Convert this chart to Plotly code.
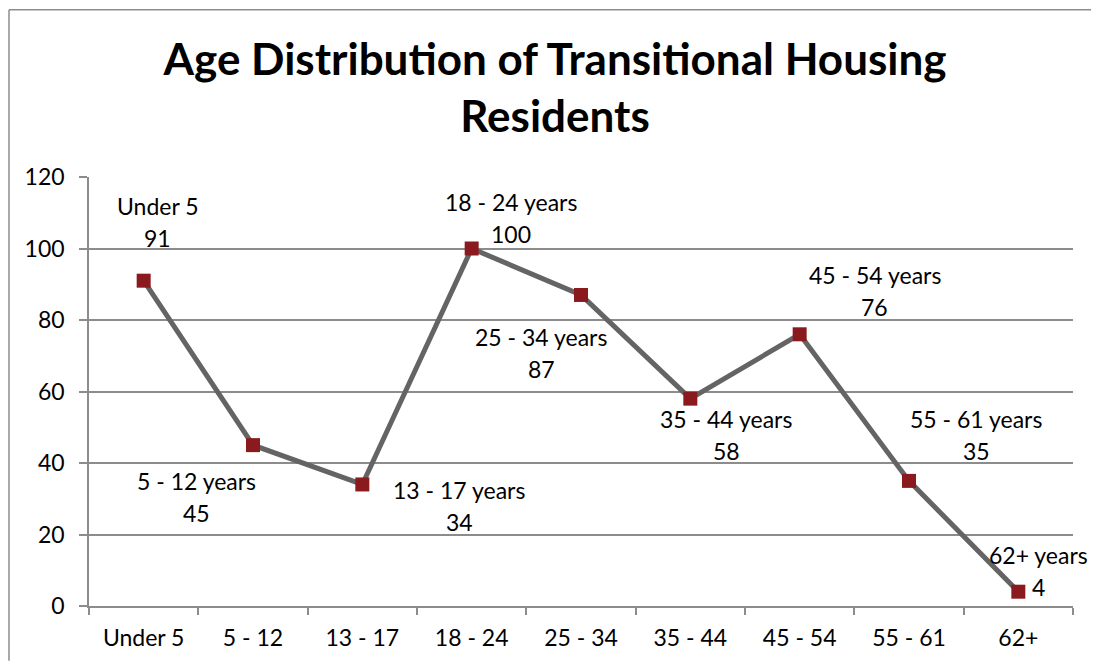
import plotly.graph_objects as go

categories = ["Under 5", "5 - 12", "13 - 17", "18 - 24", "25 - 34", "35 - 44", "45 - 54", "55 - 61", "62+"]
label_names = ["Under 5", "5 - 12 years", "13 - 17 years", "18 - 24 years", "25 - 34 years",
               "35 - 44 years", "45 - 54 years", "55 - 61 years", "62+ years"]
values = [91, 45, 34, 100, 87, 58, 76, 35, 4]
# label offsets (pixels) relative to each point
label_dx = [14, -57, 97, 39, -40, 36, 75, 67, 20]
label_dy = [59, -52, -22, 31, -58, -36, 43, 46, 21]

FONT = "Lato, Carlito, Calibri, sans-serif"
GRID = "#8c8c8c"

# the page body adds an 8px margin on every side, so the figure is sized to fit
# inside the window without scrollbars
W, H = 1083, 655
L, R, T, B = 81, 18, 169, 55

fig = go.Figure()
fig.add_trace(go.Scatter(
    x=categories, y=values, mode="lines+markers",
    line=dict(color="#646464", width=5),
    marker=dict(symbol="square", size=14, color="#8b1a1f", line=dict(width=0)),
    showlegend=False, hoverinfo="x+y",
))

for c, n, v, dx, dy in zip(categories, label_names, values, label_dx, label_dy):
    fig.add_annotation(x=c, y=v, text=n, showarrow=False, xshift=dx, yshift=dy + 16,
                       font=dict(family=FONT, size=23, color="black"))
    fig.add_annotation(x=c, y=v, text=str(v), showarrow=False, xshift=dx, yshift=dy - 16,
                       font=dict(family=FONT, size=23, color="black"))

pw, ph = W - L - R, H - T - B
bx = -(L - 1) / pw
by = (ph + T - 1) / ph
bx1 = (W - L) / pw
by0 = -B / ph
# outer chart border (top and left edges visible in the frame)
fig.add_shape(type="line", xref="paper", yref="paper", x0=bx, x1=bx1, y0=by, y1=by,
              line=dict(color=GRID, width=1.5), layer="below")
fig.add_shape(type="line", xref="paper", yref="paper", x0=bx, x1=bx, y0=by0, y1=by,
              line=dict(color=GRID, width=1.5), layer="below")

fig.update_layout(
    width=W, height=H,
    paper_bgcolor="white", plot_bgcolor="white",
    margin=dict(l=L, r=R, t=T, b=B),
    font=dict(family=FONT, size=23, color="black"),
    title=dict(text="<b>Age Distribution of Transitional Housing<br>Residents</b>",
               x=547 / W, xanchor="center", xref="container",
               y=1 - 67 / H, yanchor="middle", yref="container",
               font=dict(family=FONT, size=44, color="black")),
    xaxis=dict(
        type="category", range=[-0.5, 8.5],
        showline=True, linecolor=GRID, linewidth=1.5,
        ticks="outside", tickson="boundaries", ticklen=7, tickcolor=GRID, tickwidth=1.5,
        showgrid=False, tickfont=dict(family=FONT, size=23), ticklabelstandoff=11,
        fixedrange=True,
    ),
    yaxis=dict(
        range=[0, 120], tickvals=[0, 20, 40, 60, 80, 100, 120],
        showline=True, linecolor=GRID, linewidth=1.5,
        ticks="outside", ticklen=8, tickcolor=GRID, tickwidth=1.5,
        showgrid=True, gridcolor=GRID, gridwidth=1.5, zeroline=False,
        tickfont=dict(family=FONT, size=23), ticklabelstandoff=10, fixedrange=True,
    ),
)

fig.write_html("out.html", config={"displayModeBar": False})
